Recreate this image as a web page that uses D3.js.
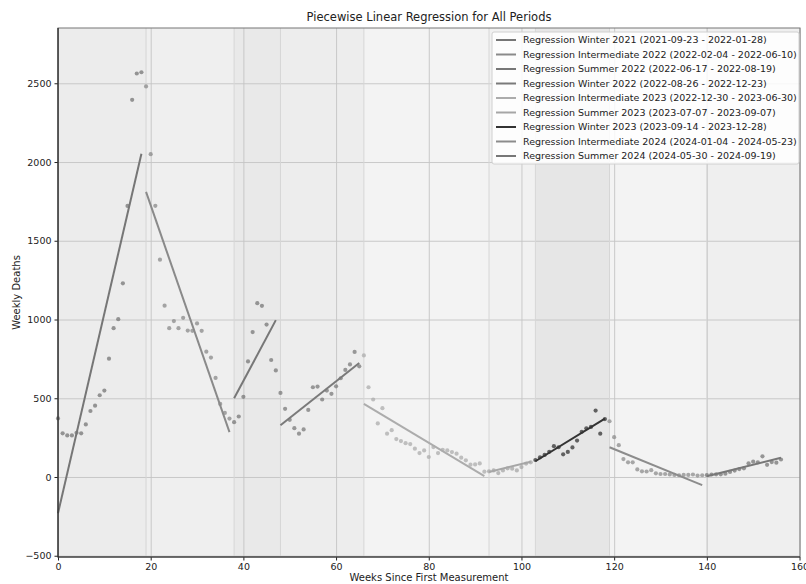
<!DOCTYPE html>
<html>
<head>
<meta charset="utf-8">
<script src="https://cdn.jsdelivr.net/npm/d3@7"></script>
<style>
body { margin: 0; background: #fff; }
svg { font-family: "DejaVu Sans", sans-serif; }
</style>
</head>
<body>
<div id="chart"></div>
<script>
// periods and their date ranges
const periodNames = ["Winter 2021", "Intermediate 2022", "Summer 2022", "Winter 2022", "Intermediate 2023",
    "Summer 2023", "Winter 2023", "Intermediate 2024", "Summer 2024"];
const periodDates = ["2021-09-23 - 2022-01-28", "2022-02-04 - 2022-06-10", "2022-06-17 - 2022-08-19",
    "2022-08-26 - 2022-12-23", "2022-12-30 - 2023-06-30", "2023-07-07 - 2023-09-07",
    "2023-09-14 - 2023-12-28", "2024-01-04 - 2024-05-23", "2024-05-30 - 2024-09-19"];
const periodStartWeek = [0, 19, 38, 48, 66, 93, 103, 119, 140];
const lastWeek = 156;

// weekly deaths, one value per week starting at week 0
const weeklyDeaths = [
    372, 277, 264, 264, 281, 277, 334, 419, 453, 519, 549, 751, 945, 1002, 1230, 1721, 2395, 2562, 2570,
    2480, 2050, 1722, 1380, 1088, 945, 990, 945, 1011, 930, 928, 975, 928, 796, 758, 629, 464, 407, 371,
    348, 384, 509, 734, 920, 1104, 1087, 968, 743, 677,
    534, 433, 363, 310, 275, 302, 426, 570, 574, 492, 549, 528, 576, 627, 680, 715, 794, 703,
    772, 570, 492, 340, 437, 275, 297, 241, 228, 215, 209, 180, 152, 169, 127, 190, 152, 173, 169, 158, 148, 123, 106, 78, 80, 86, 34,
    36, 42, 25, 42, 55, 53, 42, 63, 85, 93,
    108, 125, 140, 160, 196, 189, 144, 159, 188, 231, 287, 309, 318, 422, 275, 368,
    354, 253, 202, 114, 93, 93, 48, 36, 35, 43, 23, 19, 19, 16, 13, 11, 13, 13, 16, 9, 11,
    12, 16, 17, 17, 21, 32, 41, 50, 55, 87, 97, 93, 131, 77, 95, 91, 111
];

// fitted line value at first and last week of each period
const regFirst = [-230, 1810, 500, 328, 464, 32, 100, 189, 5];
const regLast = [2053, 285, 996, 724, 5, 97, 370, -52, 122];

const xTicks = [0, 20, 40, 60, 80, 100, 120, 140, 160];
const yTicks = [-500, 0, 500, 1000, 1500, 2000, 2500];

// styles
const lineColors = ["#767676", "#8a8a8a", "#777777", "#7a7a7a", "#acacac", "#a6a6a6", "#333333", "#8c8c8c", "#777777"];
const bandColors = ["#ececec", "#efefef", "#e9e9e9", "#ededed", "#f3f3f3", "#f1f1f1", "#e6e6e6", "#f3f3f3", "#efefef"];

const width = 806, height = 584;
const plot = {left: 58, right: 800, top: 28, bottom: 557};

let periods = periodNames.map(function(name, i) {
    let start = periodStartWeek[i];
    let end = i < periodNames.length - 1 ? periodStartWeek[i + 1] - 1 : lastWeek;
    return {name: name, dates: periodDates[i], start: start, end: end, i: i,
        first: regFirst[i], last: regLast[i]};
});

let points = weeklyDeaths.map(function(v, w) {
    let p = periods.filter(function(d) { return w >= d.start && w <= d.end; })[0];
    return {week: w, value: v, period: p.i};
});

let svg = d3.select("#chart")
    .append("svg")
    .attr("width", width)
    .attr("height", height);

let x = d3.scaleLinear().domain([0, 160.1]).range([plot.left, plot.right]);
let y = d3.scaleLinear().domain([-508, 2851]).range([plot.bottom, plot.top]);

// period background bands
svg.append("g").selectAll("rect")
    .data(periods)
    .enter()
    .append("rect")
    .attr("x", function(d) { return x(d.start); })
    .attr("y", plot.top)
    .attr("width", function(d, i) {
        let next = i < periods.length - 1 ? x(periods[i + 1].start) : plot.right;
        return next - x(d.start);
    })
    .attr("height", plot.bottom - plot.top)
    .attr("fill", function(d, i) { return bandColors[i]; });

// grid
svg.append("g")
    .attr("transform", `translate(0, ${plot.bottom})`)
    .call(d3.axisBottom(x).tickValues(xTicks).tickSize(-(plot.bottom - plot.top)).tickFormat(""))
    .call(function(g) { g.select(".domain").remove(); })
    .selectAll("line").attr("stroke", "#c4c4c4").attr("stroke-width", 0.9);

svg.append("g")
    .attr("transform", `translate(${plot.left}, 0)`)
    .call(d3.axisLeft(y).tickValues(yTicks).tickSize(-(plot.right - plot.left)).tickFormat(""))
    .call(function(g) { g.select(".domain").remove(); })
    .selectAll("line").attr("stroke", "#c4c4c4").attr("stroke-width", 0.9);

// period start markers
svg.append("g").selectAll("line")
    .data(periods.slice(1))
    .enter()
    .append("line")
    .attr("x1", function(d) { return x(d.start); })
    .attr("x2", function(d) { return x(d.start); })
    .attr("y1", plot.top)
    .attr("y2", plot.bottom)
    .attr("stroke", "#d6d6d6")
    .attr("stroke-width", 1);

// weekly points
svg.append("g").selectAll("circle")
    .data(points)
    .enter()
    .append("circle")
    .attr("cx", function(d) { return x(d.week); })
    .attr("cy", function(d) { return y(d.value); })
    .attr("r", 2.1)
    .attr("fill", function(d) { return lineColors[d.period]; })
    .attr("opacity", 0.75);

// regression lines
svg.append("g").selectAll("line")
    .data(periods)
    .enter()
    .append("line")
    .attr("x1", function(d) { return x(d.start); })
    .attr("y1", function(d) { return y(d.first); })
    .attr("x2", function(d) { return x(d.end); })
    .attr("y2", function(d) { return y(d.last); })
    .attr("stroke", function(d, i) { return lineColors[i]; })
    .attr("stroke-width", 2);

// axes
let xAxis = svg.append("g")
    .attr("transform", `translate(0, ${plot.bottom})`)
    .call(d3.axisBottom(x).tickValues(xTicks).tickSize(3.5).tickPadding(3).tickFormat(d3.format("d")));
let yAxis = svg.append("g")
    .attr("transform", `translate(${plot.left}, 0)`)
    .call(d3.axisLeft(y).tickValues(yTicks).tickSize(3.5).tickPadding(3).tickFormat(d3.format("d")));
[xAxis, yAxis].forEach(function(g) {
    g.select(".domain").remove();
    g.selectAll("text").attr("font-size", 9.5).attr("fill", "#222").attr("font-family", "DejaVu Sans");
    g.selectAll("line").attr("stroke", "#222");
});

// frame
svg.append("rect")
    .attr("x", plot.left).attr("y", plot.top)
    .attr("width", plot.right - plot.left).attr("height", plot.bottom - plot.top)
    .attr("fill", "none").attr("stroke", "#777").attr("stroke-width", 1);
svg.append("path")
    .attr("d", `M${plot.left},${plot.top}V${plot.bottom}H${plot.right}`)
    .attr("fill", "none").attr("stroke", "#222").attr("stroke-width", 1.2);

// title and labels
svg.append("text")
    .attr("x", (plot.left + plot.right) / 2).attr("y", 21)
    .attr("text-anchor", "middle").attr("font-size", 11.5).attr("fill", "#222")
    .text("Piecewise Linear Regression for All Periods");

svg.append("text")
    .attr("x", (plot.left + plot.right) / 2).attr("y", 581)
    .attr("text-anchor", "middle").attr("font-size", 10).attr("fill", "#222")
    .text("Weeks Since First Measurement");

svg.append("text")
    .attr("transform", `translate(20, ${(plot.top + plot.bottom) / 2}) rotate(-90)`)
    .attr("text-anchor", "middle").attr("font-size", 10).attr("fill", "#222")
    .text("Weekly Deaths");

// legend
let legend = svg.append("g").attr("transform", "translate(492, 32)");
legend.append("rect")
    .attr("width", 307).attr("height", 132).attr("rx", 2)
    .attr("fill", "#fff").attr("fill-opacity", 0.85)
    .attr("stroke", "#d0d0d0");
let rows = legend.selectAll("g.row")
    .data(periods)
    .enter()
    .append("g")
    .attr("class", "row")
    .attr("transform", function(d, i) { return `translate(0, ${8 + i * 14.5})`; });
rows.append("line")
    .attr("x1", 4).attr("x2", 24)
    .attr("stroke", function(d, i) { return lineColors[i]; })
    .attr("stroke-width", 2);
rows.append("text")
    .attr("x", 31).attr("dy", "0.35em")
    .attr("font-size", 9.5).attr("fill", "#222")
    .text(function(d) { return `Regression ${d.name} (${d.dates})`; });
</script>
</body>
</html>
